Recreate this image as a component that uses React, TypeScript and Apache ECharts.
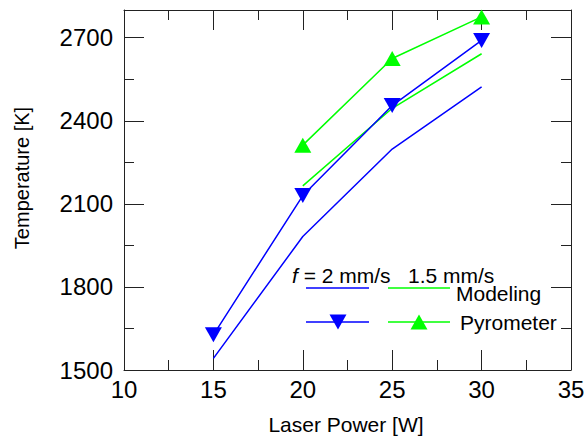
import React, { useEffect, useRef } from "react";
import * as echarts from "echarts";

// Laser power [W] and temperatures [K]
const powerSlow = [15, 20, 25, 30]; // f = 2 mm/s
const modelSlow = [1542, 1982, 2298, 2522];
const pyroSlow = [1627, 2130, 2455, 2690];

const powerFast = [20, 25, 30]; // f = 1.5 mm/s
const modelFast = [2165, 2445, 2642];
const pyroFast = [2312, 2625, 2775];

const X_MIN = 10;
const X_MAX = 35;
const X_STEP = 5;
const Y_MIN = 1500;
const Y_MAX = 2800;
const Y_STEP = 300;

const BLUE = "#0000ff";
const GREEN = "#00ff00";
const AXIS = "#222222";
const FONT = "'Liberation Sans', Arial, Helvetica, sans-serif";

const pairs = (xs: number[], ys: number[]) => xs.map((x, i) => [x, ys[i]]);

export default function App() {
  const ref = useRef<HTMLDivElement>(null);

  useEffect(() => {
    document.body.style.margin = "0";
    if (!ref.current) return;
    const chart = echarts.init(ref.current, null, { renderer: "svg" });

    const tickCommon = {
      axisLine: { show: true, lineStyle: { color: AXIS, width: 1 } },
      axisTick: { show: true, inside: true, length: 20, lineStyle: { color: AXIS, width: 1 } },
      minorTick: { show: true, splitNumber: 2, length: 10, lineStyle: { color: AXIS, width: 1 } },
      splitLine: { show: false },
      minorSplitLine: { show: false },
    };

    const xBase = { type: "value", min: X_MIN, max: X_MAX, interval: X_STEP, ...tickCommon };
    const yBase = { type: "value", min: Y_MIN, max: Y_MAX, interval: Y_STEP, ...tickCommon };

    const lineSeries = (name: string, xs: number[], ys: number[], color: string) => ({
      name,
      type: "line",
      data: pairs(xs, ys),
      symbol: "none",
      lineStyle: { color, width: 1.5 },
      z: 2,
    });

    const pyroSeries = (name: string, xs: number[], ys: number[], color: string, down: boolean) => ({
      name,
      type: "line",
      data: pairs(xs, ys),
      symbol: "triangle",
      symbolSize: [17, 15],
      symbolRotate: down ? 180 : 0,
      showAllSymbol: true,
      itemStyle: { color, borderWidth: 0 },
      lineStyle: { color, width: 1.5 },
      z: 3,
    });

    const legendText = (x: number, y: number, text: string) => ({
      type: "text",
      x,
      y,
      style: {
        text,
        fill: "#000",
        font: `21px ${FONT}`,
        textVerticalAlign: "middle",
        verticalAlign: "middle",
      },
    });

    const legendLine = (x1: number, x2: number, y: number, color: string) => ({
      type: "line",
      shape: { x1, y1: y, x2, y2: y },
      style: { stroke: color, lineWidth: 1.5 },
    });

    chart.setOption({
      animation: false,
      backgroundColor: "#ffffff",
      grid: { left: 124, right: 16, top: 10, bottom: 66, containLabel: false, outerBoundsMode: "none" },
      xAxis: [
        {
          ...xBase,
          position: "bottom",
          axisLabel: { show: true, color: "#000", fontSize: 24, fontFamily: FONT, margin: 7 },
        },
        { ...xBase, position: "top", axisLabel: { show: false } },
      ],
      yAxis: [
        {
          ...yBase,
          position: "left",
          axisLabel: {
            show: true,
            color: "#000",
            fontSize: 24,
            fontFamily: FONT,
            margin: 11,
            showMaxLabel: false,
            formatter: (v: number) => (v % Y_STEP === 0 && v <= 2700 ? String(v) : ""),
          },
        },
        { ...yBase, position: "right", axisLabel: { show: false } },
      ],
      series: [
        lineSeries("Modeling 2 mm/s", powerSlow, modelSlow, BLUE),
        lineSeries("Modeling 1.5 mm/s", powerFast, modelFast, GREEN),
        pyroSeries("Pyrometer 2 mm/s", powerSlow, pyroSlow, BLUE, true),
        pyroSeries("Pyrometer 1.5 mm/s", powerFast, pyroFast, GREEN, false),
      ],
      graphic: [
        {
          type: "text",
          x: 346,
          y: 424,
          style: {
            text: "Laser Power [W]",
            fill: "#000",
            font: `21px ${FONT}`,
            align: "center",
            verticalAlign: "middle",
          },
        },
        {
          type: "text",
          x: 22,
          y: 178,
          rotation: Math.PI / 2,
          style: {
            text: "Temperature [K]",
            fill: "#000",
            font: `20px ${FONT}`,
            align: "center",
            verticalAlign: "middle",
          },
        },
        {
          type: "text",
          x: 292,
          y: 275,
          style: {
            text: "{i|f}{n| = 2 mm/s}",
            verticalAlign: "middle",
            rich: {
              i: { fontSize: 21, fontStyle: "italic", fontFamily: FONT, fill: "#000" },
              n: { fontSize: 21, fontFamily: FONT, fill: "#000" },
            },
          },
        },
        legendText(408, 275, "1.5 mm/s"),
        legendLine(306, 369, 288, BLUE),
        legendLine(388, 450, 288, GREEN),
        legendText(456, 293, "Modeling"),
        legendLine(306, 369, 322, BLUE),
        legendLine(388, 450, 322, GREEN),
        {
          type: "polygon",
          shape: { points: [[329.5, 314.5], [346.5, 314.5], [338, 329.5]] },
          style: { fill: BLUE },
        },
        {
          type: "polygon",
          shape: { points: [[410.5, 329.5], [427.5, 329.5], [419, 314.5]] },
          style: { fill: GREEN },
        },
        legendText(460, 322, "Pyrometer"),
      ],
    });

    return () => chart.dispose();
  }, []);

  return <div ref={ref} style={{ width: 587, height: 436 }} />;
}
